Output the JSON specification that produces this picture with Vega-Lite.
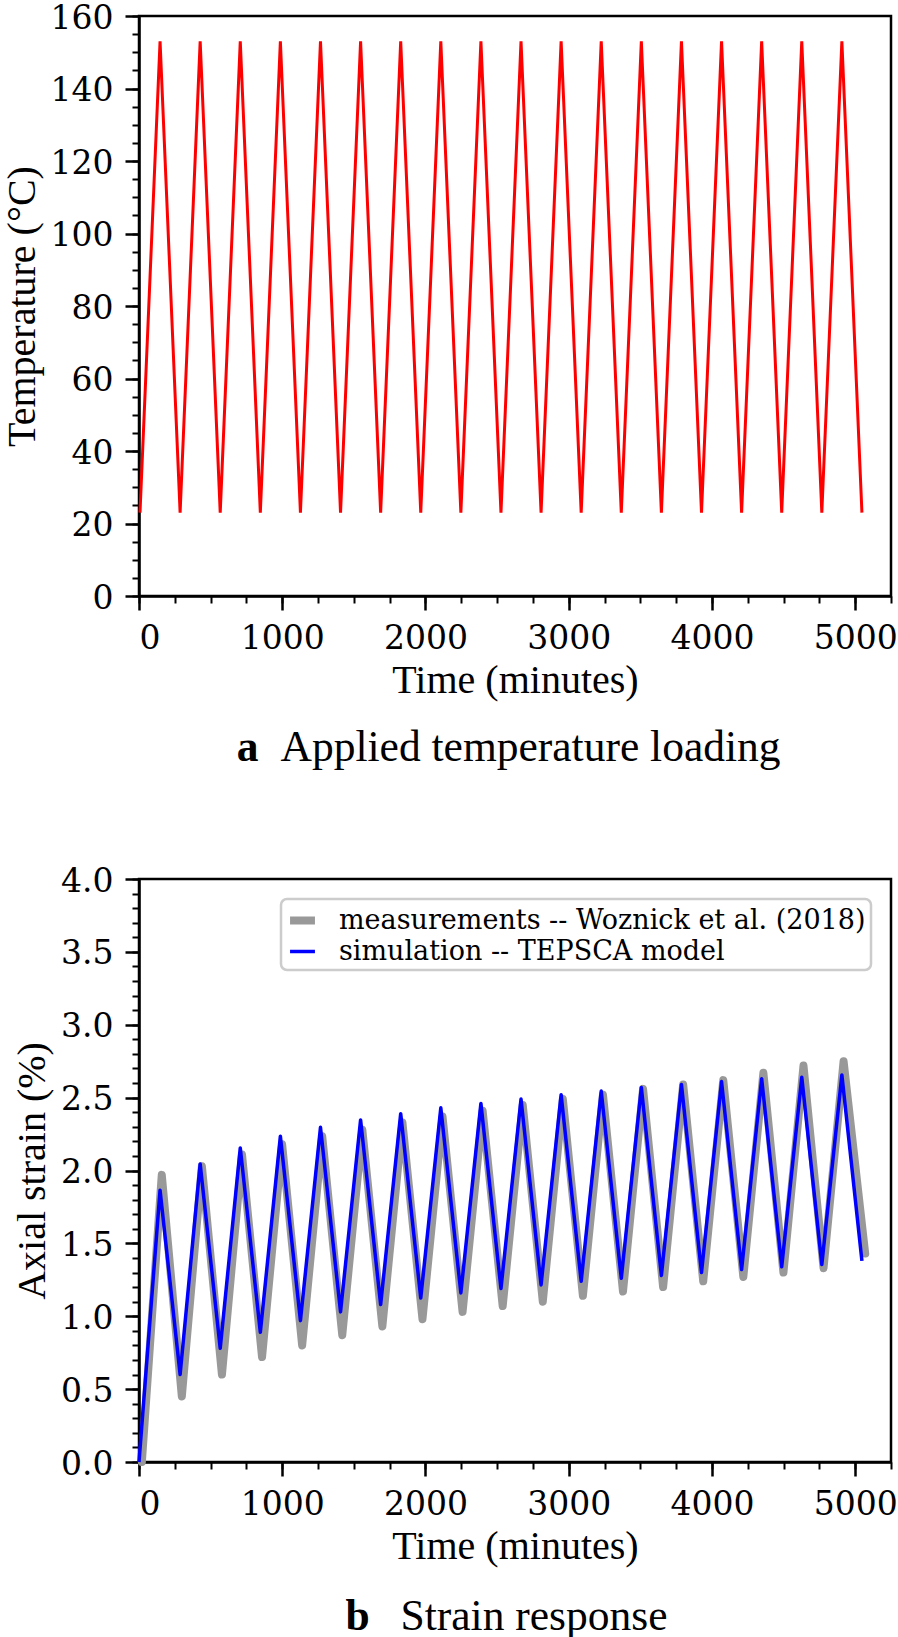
{
  "$schema": "https://vega.github.io/schema/vega-lite/v6.json",
  "background": "white",
  "padding": {"left": 0, "top": 0, "right": 5, "bottom": 0},
  "datasets": {
    "temp": [
      {"t": 7, "T": 23},
      {"t": 147, "T": 153}, {"t": 287, "T": 23},
      {"t": 427, "T": 153}, {"t": 567, "T": 23},
      {"t": 707, "T": 153}, {"t": 847, "T": 23},
      {"t": 987, "T": 153}, {"t": 1127, "T": 23},
      {"t": 1267, "T": 153}, {"t": 1407, "T": 23},
      {"t": 1547, "T": 153}, {"t": 1687, "T": 23},
      {"t": 1827, "T": 153}, {"t": 1967, "T": 23},
      {"t": 2107, "T": 153}, {"t": 2247, "T": 23},
      {"t": 2387, "T": 153}, {"t": 2527, "T": 23},
      {"t": 2667, "T": 153}, {"t": 2807, "T": 23},
      {"t": 2947, "T": 153}, {"t": 3087, "T": 23},
      {"t": 3227, "T": 153}, {"t": 3367, "T": 23},
      {"t": 3507, "T": 153}, {"t": 3647, "T": 23},
      {"t": 3787, "T": 153}, {"t": 3927, "T": 23},
      {"t": 4067, "T": 153}, {"t": 4207, "T": 23},
      {"t": 4347, "T": 153}, {"t": 4487, "T": 23},
      {"t": 4627, "T": 153}, {"t": 4767, "T": 23},
      {"t": 4907, "T": 153}, {"t": 5047, "T": 23}
    ],
    "strain": [
      {"series": "measurements -- Woznick et al. (2018)", "t": 20, "s": 0},
      {"series": "measurements -- Woznick et al. (2018)", "t": 159, "s": 1.97},
      {"series": "measurements -- Woznick et al. (2018)", "t": 299, "s": 0.45},
      {"series": "measurements -- Woznick et al. (2018)", "t": 439, "s": 2.03},
      {"series": "measurements -- Woznick et al. (2018)", "t": 579, "s": 0.60},
      {"series": "measurements -- Woznick et al. (2018)", "t": 719, "s": 2.11},
      {"series": "measurements -- Woznick et al. (2018)", "t": 859, "s": 0.72},
      {"series": "measurements -- Woznick et al. (2018)", "t": 999, "s": 2.18},
      {"series": "measurements -- Woznick et al. (2018)", "t": 1139, "s": 0.80},
      {"series": "measurements -- Woznick et al. (2018)", "t": 1279, "s": 2.235},
      {"series": "measurements -- Woznick et al. (2018)", "t": 1419, "s": 0.87},
      {"series": "measurements -- Woznick et al. (2018)", "t": 1559, "s": 2.28},
      {"series": "measurements -- Woznick et al. (2018)", "t": 1699, "s": 0.93},
      {"series": "measurements -- Woznick et al. (2018)", "t": 1839, "s": 2.33},
      {"series": "measurements -- Woznick et al. (2018)", "t": 1979, "s": 0.98},
      {"series": "measurements -- Woznick et al. (2018)", "t": 2119, "s": 2.37},
      {"series": "measurements -- Woznick et al. (2018)", "t": 2259, "s": 1.03},
      {"series": "measurements -- Woznick et al. (2018)", "t": 2399, "s": 2.41},
      {"series": "measurements -- Woznick et al. (2018)", "t": 2539, "s": 1.07},
      {"series": "measurements -- Woznick et al. (2018)", "t": 2679, "s": 2.45},
      {"series": "measurements -- Woznick et al. (2018)", "t": 2819, "s": 1.10},
      {"series": "measurements -- Woznick et al. (2018)", "t": 2959, "s": 2.49},
      {"series": "measurements -- Woznick et al. (2018)", "t": 3099, "s": 1.14},
      {"series": "measurements -- Woznick et al. (2018)", "t": 3239, "s": 2.52},
      {"series": "measurements -- Woznick et al. (2018)", "t": 3379, "s": 1.17},
      {"series": "measurements -- Woznick et al. (2018)", "t": 3519, "s": 2.56},
      {"series": "measurements -- Woznick et al. (2018)", "t": 3659, "s": 1.20},
      {"series": "measurements -- Woznick et al. (2018)", "t": 3799, "s": 2.59},
      {"series": "measurements -- Woznick et al. (2018)", "t": 3939, "s": 1.24},
      {"series": "measurements -- Woznick et al. (2018)", "t": 4079, "s": 2.62},
      {"series": "measurements -- Woznick et al. (2018)", "t": 4219, "s": 1.27},
      {"series": "measurements -- Woznick et al. (2018)", "t": 4359, "s": 2.67},
      {"series": "measurements -- Woznick et al. (2018)", "t": 4499, "s": 1.30},
      {"series": "measurements -- Woznick et al. (2018)", "t": 4639, "s": 2.72},
      {"series": "measurements -- Woznick et al. (2018)", "t": 4779, "s": 1.33},
      {"series": "measurements -- Woznick et al. (2018)", "t": 4919, "s": 2.75},
      {"series": "measurements -- Woznick et al. (2018)", "t": 5070, "s": 1.43},
      {"series": "simulation -- TEPSCA model", "t": 0, "s": 0},
      {"series": "simulation -- TEPSCA model", "t": 147, "s": 1.865},
      {"series": "simulation -- TEPSCA model", "t": 287, "s": 0.60},
      {"series": "simulation -- TEPSCA model", "t": 427, "s": 2.045},
      {"series": "simulation -- TEPSCA model", "t": 567, "s": 0.78},
      {"series": "simulation -- TEPSCA model", "t": 707, "s": 2.155},
      {"series": "simulation -- TEPSCA model", "t": 847, "s": 0.89},
      {"series": "simulation -- TEPSCA model", "t": 987, "s": 2.235},
      {"series": "simulation -- TEPSCA model", "t": 1127, "s": 0.97},
      {"series": "simulation -- TEPSCA model", "t": 1267, "s": 2.296},
      {"series": "simulation -- TEPSCA model", "t": 1407, "s": 1.03},
      {"series": "simulation -- TEPSCA model", "t": 1547, "s": 2.347},
      {"series": "simulation -- TEPSCA model", "t": 1687, "s": 1.08},
      {"series": "simulation -- TEPSCA model", "t": 1827, "s": 2.39},
      {"series": "simulation -- TEPSCA model", "t": 1967, "s": 1.125},
      {"series": "simulation -- TEPSCA model", "t": 2107, "s": 2.43},
      {"series": "simulation -- TEPSCA model", "t": 2247, "s": 1.16},
      {"series": "simulation -- TEPSCA model", "t": 2387, "s": 2.46},
      {"series": "simulation -- TEPSCA model", "t": 2527, "s": 1.19},
      {"series": "simulation -- TEPSCA model", "t": 2667, "s": 2.49},
      {"series": "simulation -- TEPSCA model", "t": 2807, "s": 1.215},
      {"series": "simulation -- TEPSCA model", "t": 2947, "s": 2.52},
      {"series": "simulation -- TEPSCA model", "t": 3087, "s": 1.24},
      {"series": "simulation -- TEPSCA model", "t": 3227, "s": 2.545},
      {"series": "simulation -- TEPSCA model", "t": 3367, "s": 1.26},
      {"series": "simulation -- TEPSCA model", "t": 3507, "s": 2.57},
      {"series": "simulation -- TEPSCA model", "t": 3647, "s": 1.28},
      {"series": "simulation -- TEPSCA model", "t": 3787, "s": 2.59},
      {"series": "simulation -- TEPSCA model", "t": 3927, "s": 1.30},
      {"series": "simulation -- TEPSCA model", "t": 4067, "s": 2.61},
      {"series": "simulation -- TEPSCA model", "t": 4207, "s": 1.32},
      {"series": "simulation -- TEPSCA model", "t": 4347, "s": 2.63},
      {"series": "simulation -- TEPSCA model", "t": 4487, "s": 1.34},
      {"series": "simulation -- TEPSCA model", "t": 4627, "s": 2.64},
      {"series": "simulation -- TEPSCA model", "t": 4767, "s": 1.355},
      {"series": "simulation -- TEPSCA model", "t": 4907, "s": 2.655},
      {"series": "simulation -- TEPSCA model", "t": 5047, "s": 1.38}
    ]
  },
  "vconcat": [
    {
      "width": 752,
      "height": 580,
      "data": {"name": "temp"},
      "layer": [
        {
          "mark": {"type": "line", "color": "#ff0000", "strokeWidth": 3},
          "encoding": {
            "x": {"field": "t", "type": "quantitative", "scale": {"domain": [0, 5250], "nice": false, "zero": false},
                  "axis": {"orient": "bottom", "values": [0, 1000, 2000, 3000, 4000, 5000], "format": "d", "title": "Time (minutes)"}},
            "y": {"field": "T", "type": "quantitative", "scale": {"domain": [0, 160], "nice": false},
                  "axis": {"orient": "left", "values": [0, 20, 40, 60, 80, 100, 120, 140, 160], "labelOffset": 2, "title": "Temperature (°C)"}}
          }
        },
        {
          "mark": {"type": "line", "opacity": 0},
          "encoding": {
            "x": {"field": "t", "type": "quantitative",
                  "axis": {"orient": "bottom", "values": [0, 250, 500, 750, 1000, 1250, 1500, 1750, 2000, 2250, 2500, 2750, 3000, 3250, 3500, 3750, 4000, 4250, 4500, 4750, 5000, 5250], "labels": false, "domain": false, "tickSize": 7, "tickWidth": 2,
                           "title": "a", "titleFont": "Liberation Serif", "titleFontWeight": "bold", "titleFontSize": 43.5, "titleX": 108, "titleY": 164, "titleAlign": "center", "titleBaseline": "alphabetic", "titleAngle": 0}},
            "y": {"field": "T", "type": "quantitative",
                  "axis": {"orient": "left", "values": [0, 5, 10, 15, 20, 25, 30, 35, 40, 45, 50, 55, 60, 65, 70, 75, 80, 85, 90, 95, 100, 105, 110, 115, 120, 125, 130, 135, 140, 145, 150, 155, 160], "labels": false, "domain": false, "tickSize": 7, "tickWidth": 2, "title": null}}
          }
        },
        {
          "mark": {"type": "line", "opacity": 0},
          "encoding": {
            "x": {"field": "t", "type": "quantitative",
                  "axis": {"orient": "bottom", "ticks": false, "labels": false, "domain": false,
                           "title": "Applied temperature loading", "titleFont": "Liberation Serif", "titleFontWeight": "normal", "titleFontSize": 43.5, "titleX": 141, "titleY": 164, "titleAlign": "left", "titleBaseline": "alphabetic", "titleAngle": 0}},
            "y": {"field": "T", "type": "quantitative", "axis": null}
          }
        }
      ],
      "resolve": {"axis": {"x": "independent", "y": "independent"}}
    },
    {
      "width": 752,
      "height": 583,
      "data": {"name": "strain"},
      "layer": [
        {
          "transform": [{"filter": "datum.series == 'measurements -- Woznick et al. (2018)'"}],
          "mark": {"type": "line", "strokeCap": "round", "strokeJoin": "round"},
          "encoding": {
            "x": {"field": "t", "type": "quantitative", "scale": {"domain": [0, 5250], "nice": false, "zero": false},
                  "axis": {"orient": "bottom", "values": [0, 1000, 2000, 3000, 4000, 5000], "format": "d", "title": "Time (minutes)"}},
            "y": {"field": "s", "type": "quantitative", "scale": {"domain": [0, 4], "nice": false},
                  "axis": {"orient": "left", "values": [0, 0.5, 1, 1.5, 2, 2.5, 3, 3.5, 4], "format": ".1f", "labelOffset": 2, "title": "Axial strain (%)"}},
            "color": {"field": "series", "type": "nominal",
                      "scale": {"domain": ["measurements -- Woznick et al. (2018)", "simulation -- TEPSCA model"], "range": ["#999999", "#0000ff"]},
                      "legend": {"title": null, "orient": "top-right", "offset": 20}},
            "strokeWidth": {"field": "series", "type": "nominal",
                      "scale": {"domain": ["measurements -- Woznick et al. (2018)", "simulation -- TEPSCA model"], "range": [8, 3.5]},
                      "legend": {"title": null, "orient": "top-right", "offset": 20}}
          }
        },
        {
          "transform": [{"filter": "datum.series == 'simulation -- TEPSCA model'"}],
          "mark": {"type": "line", "strokeJoin": "round"},
          "encoding": {
            "x": {"field": "t", "type": "quantitative", "axis": null},
            "y": {"field": "s", "type": "quantitative", "axis": null},
            "color": {"field": "series", "type": "nominal"},
            "strokeWidth": {"field": "series", "type": "nominal"}
          }
        },
        {
          "mark": {"type": "line", "opacity": 0},
          "encoding": {
            "x": {"field": "t", "type": "quantitative",
                  "axis": {"orient": "bottom", "values": [0, 250, 500, 750, 1000, 1250, 1500, 1750, 2000, 2250, 2500, 2750, 3000, 3250, 3500, 3750, 4000, 4250, 4500, 4750, 5000, 5250], "labels": false, "domain": false, "tickSize": 7, "tickWidth": 2,
                           "title": "b", "titleFont": "Liberation Serif", "titleFontWeight": "bold", "titleFontSize": 43.5, "titleX": 218, "titleY": 167, "titleAlign": "center", "titleBaseline": "alphabetic", "titleAngle": 0}},
            "y": {"field": "s", "type": "quantitative",
                  "axis": {"orient": "left", "values": [0, 0.1, 0.2, 0.3, 0.4, 0.5, 0.6, 0.7, 0.8, 0.9, 1, 1.1, 1.2, 1.3, 1.4, 1.5, 1.6, 1.7, 1.8, 1.9, 2, 2.1, 2.2, 2.3, 2.4, 2.5, 2.6, 2.7, 2.8, 2.9, 3, 3.1, 3.2, 3.3, 3.4, 3.5, 3.6, 3.7, 3.8, 3.9, 4], "labels": false, "domain": false, "tickSize": 7, "tickWidth": 2, "title": null}}
          }
        },
        {
          "mark": {"type": "line", "opacity": 0},
          "encoding": {
            "x": {"field": "t", "type": "quantitative",
                  "axis": {"orient": "bottom", "ticks": false, "labels": false, "domain": false,
                           "title": "Strain response", "titleFont": "Liberation Serif", "titleFontWeight": "normal", "titleFontSize": 43.5, "titleX": 261, "titleY": 167, "titleAlign": "left", "titleBaseline": "alphabetic", "titleAngle": 0}},
            "y": {"field": "s", "type": "quantitative", "axis": null}
          }
        }
      ],
      "resolve": {"axis": {"x": "independent", "y": "independent"}}
    }
  ],
  "spacing": 93,
  "resolve": {"legend": {"color": "independent", "strokeWidth": "independent"}},
  "config": {
    "view": {"stroke": "black", "strokeWidth": 2.5},
    "axis": {
      "grid": false,
      "domainColor": "black", "domainWidth": 2.5,
      "tickColor": "black", "tickWidth": 2.5, "tickSize": 14,
      "labelColor": "black", "labelFont": "DejaVu Serif", "labelFontSize": 33, "labelPadding": 12,
      "titleColor": "black", "titleFont": "Liberation Serif", "titleFontSize": 40, "titleFontWeight": "normal"
    },
    "axisX": {"titlePadding": 5},
    "axisY": {"titlePadding": 8},
    "legend": {
      "fillColor": "white", "strokeColor": "#cccccc", "strokeWidth": 2.5, "cornerRadius": 6, "padding": 5,
      "labelFont": "DejaVu Serif", "labelFontSize": 27, "labelColor": "black", "labelLimit": 0,
      "symbolType": "stroke", "symbolSize": 620, "rowPadding": 0, "labelOffset": 20
    }
  }
}
